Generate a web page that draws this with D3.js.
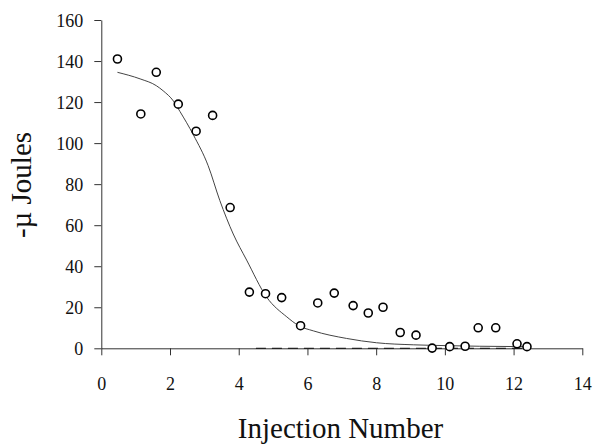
<!DOCTYPE html>
<html><head><meta charset="utf-8">
<script src="https://cdn.jsdelivr.net/npm/d3@7"></script>
<style>body{margin:0;background:#fff}svg{display:block}svg text{font-family:"Liberation Serif","Times New Roman",serif !important;fill:#111}</style>
</head><body><svg id="c" width="595" height="444"></svg>
<script>
const injX = [0.47,1.15,1.60,2.24,2.76,3.24,3.75,4.31,4.78,5.25,5.80,6.30,6.78,7.33,7.77,8.20,8.70,9.16,9.63,10.14,10.59,10.97,11.48,12.10,12.39];
const heatY = [141,114.2,134.5,119,105.8,113.5,68.6,27.4,26.6,24.7,11,22.1,26.9,20.8,17.2,20,7.7,6.4,0.1,0.8,1,10,10,2.2,0.8];
const fitX = [0.47,1.13,1.6,1.8,2.1,2.29,2.68,3.11,3.45,3.84,4.23,4.81,5.4,5.75,6.17,7.14,8.01,9.08,10.05,11.0,12.4];
const fitY = [134.5,131.3,128,125.5,120.5,115.4,104,89,72,55.7,43,25,15.3,11,8.5,4.8,2.7,1.7,1.3,1,0.8];
const baseX = [4.5,12.4];
const baseY = [0,0];
const xTicks = [0,2,4,6,8,10,12,14];
const yTicks = [0,20,40,60,80,100,120,140,160];

const svg = d3.select("#c");
const x = d3.scaleLinear().domain([0,14]).range([101.3,582.3]);
const y = d3.scaleLinear().domain([0,160]).range([348.3,20]);

const xa = svg.append("g").attr("transform",`translate(0,${y(0)})`)
  .call(d3.axisBottom(x).tickValues(xTicks).tickSizeInner(7).tickSizeOuter(0).tickPadding(22).tickFormat(d3.format("d")));
const ya = svg.append("g").attr("transform",`translate(${x(0)},0)`)
  .call(d3.axisLeft(y).tickValues(yTicks).tickSizeInner(7).tickSizeOuter(0).tickPadding(11).tickFormat(d3.format("d")));
[xa,ya].forEach(a=>{
  a.attr("font-family","Liberation Serif, serif").attr("font-size",18);
  a.selectAll("path,line").attr("stroke","#333").attr("stroke-width",1);
  a.selectAll("text").attr("font-family","Liberation Serif, serif").attr("font-size",18).attr("fill","#111");
});
ya.selectAll("text").attr("dy","0.35em");

// baseline dashed
svg.append("path")
  .attr("d", d3.line().x(d=>x(d[0])).y(d=>y(d[1]))(baseX.map((v,i)=>[v,baseY[i]])))
  .attr("stroke","#222").attr("stroke-width",1.2).attr("stroke-dasharray","10,6").attr("fill","none");

// fit curve
svg.append("path")
  .attr("d", d3.line().x(d=>x(d[0])).y(d=>y(d[1])).curve(d3.curveMonotoneX)(fitX.map((v,i)=>[v,fitY[i]])))
  .attr("stroke","#444").attr("stroke-width",1).attr("fill","none");

// points
svg.append("g").selectAll("circle").data(injX.map((v,i)=>[v,heatY[i]])).join("circle")
  .attr("cx",d=>x(d[0])).attr("cy",d=>y(d[1])).attr("r",4)
  .attr("fill","#fff").attr("stroke","#000").attr("stroke-width",1.6);

svg.append("text").attr("x",340.5).attr("y",438).attr("text-anchor","middle")
  .attr("font-size",29).attr("font-family","Liberation Serif, serif").text("Injection Number");
svg.append("text").attr("transform","translate(31,185) rotate(-90)").attr("text-anchor","middle")
  .attr("font-size",29).attr("font-family","Liberation Serif, serif").text("-\u00b5 Joules");
</script></body></html>
